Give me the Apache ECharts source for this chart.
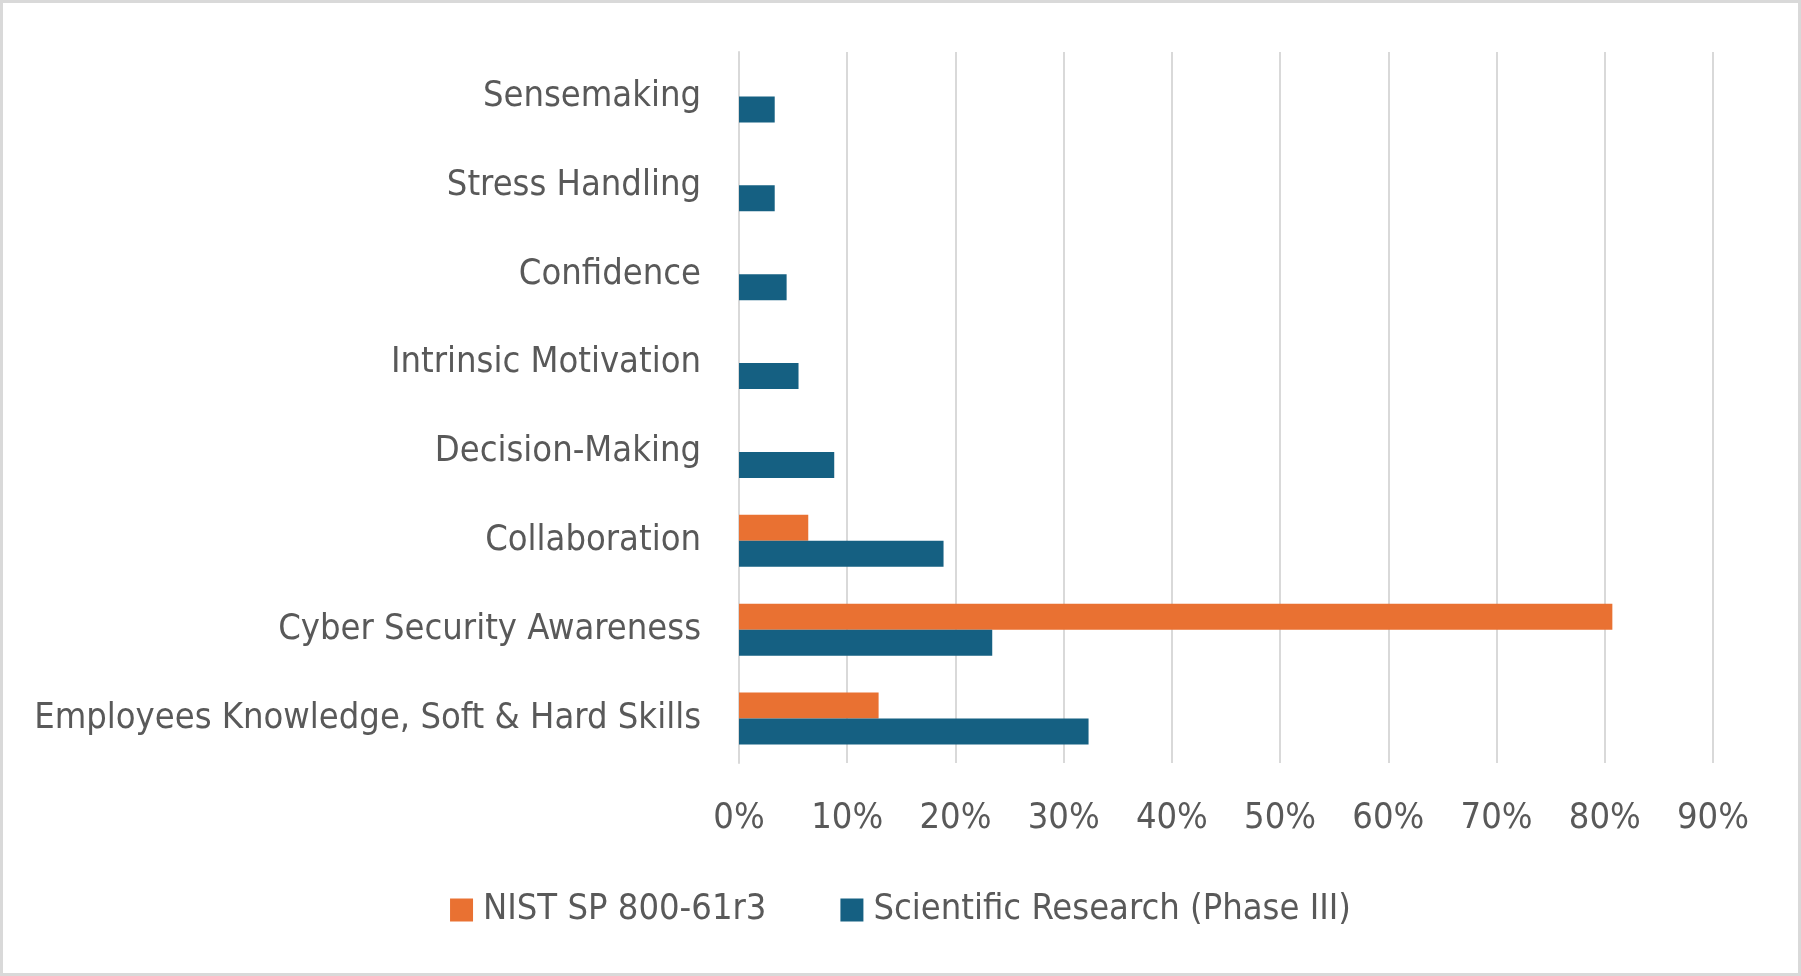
<!DOCTYPE html>
<html>
<head>
<meta charset="utf-8">
<script src="https://cdn.jsdelivr.net/npm/echarts@6/dist/echarts.min.js"></script>
<style>
  html, body { margin: 0; padding: 0; background: #fff; }
  #chart {
    width: 1801px; height: 976px; box-sizing: border-box;
    border: 3px solid #d9d9d9; background: #fff;
  }
</style>
</head>
<body>
<div id="chart"></div>
<script>
// categories listed bottom to top (ECharts category y axis starts at the bottom)
const categories = [
  'Employees Knowledge, Soft & Hard Skills',
  'Cyber Security Awareness',
  'Collaboration',
  'Decision-Making',
  'Intrinsic Motivation',
  'Confidence',
  'Stress Handling',
  'Sensemaking'
];
const nistValues = [12.9, 80.7, 6.4, null, null, null, null, null];
const researchValues = [32.3, 23.4, 18.9, 8.8, 5.5, 4.4, 3.3, 3.3];
const seriesNames = ['NIST SP 800-61r3', 'Scientific Research (Phase III)'];
const seriesColors = ['#E97132', '#156082'];
const tickLabels = ['0%', '10%', '20%', '30%', '40%', '50%', '60%', '70%', '80%', '90%'];

const FONT = "'Liberation Sans Narrow', 'DejaVu Sans Condensed', sans-serif";
const TEXT = '#595959';

const chart = echarts.init(document.getElementById('chart'));

const option = {
  animation: false,
  textStyle: { fontFamily: FONT },
  grid: { top: 49, left: 736, right: 85, bottom: 210, containLabel: false },
  legend: {
    bottom: 40,
    left: 'center',
    itemWidth: 23,
    itemHeight: 23,
    itemGap: 74,
    icon: 'rect',
    textStyle: { color: TEXT, fontSize: 36, fontFamily: FONT, padding: [0, 0, 0, 5] },
    data: seriesNames
  },
  xAxis: {
    type: 'value',
    min: 0,
    max: 90,
    interval: 10,
    axisLine: { show: false },
    axisTick: { show: false },
    splitLine: { lineStyle: { color: '#d9d9d9', width: 2 } },
    axisLabel: {
      color: TEXT, fontSize: 36, margin: 38,
      formatter: (v) => tickLabels[Math.round(v / 10)]
    }
  },
  yAxis: {
    type: 'category',
    data: categories,
    axisLine: { show: true, lineStyle: { color: '#d9d9d9', width: 2 } },
    axisTick: { show: false },
    axisLabel: { color: TEXT, fontSize: 36, margin: 38, padding: [6, 0, 0, 0] }
  },
  series: [
    {
      name: seriesNames[0],
      type: 'bar',
      data: nistValues,
      itemStyle: { color: seriesColors[0] },
      barWidth: 26,
      barGap: '0%',
      barCategoryGap: '41%'
    },
    {
      name: seriesNames[1],
      type: 'bar',
      data: researchValues,
      itemStyle: { color: seriesColors[1] },
      barWidth: 26,
      barGap: '0%',
      barCategoryGap: '41%'
    }
  ]
};

chart.setOption(option);
</script>
</body>
</html>
